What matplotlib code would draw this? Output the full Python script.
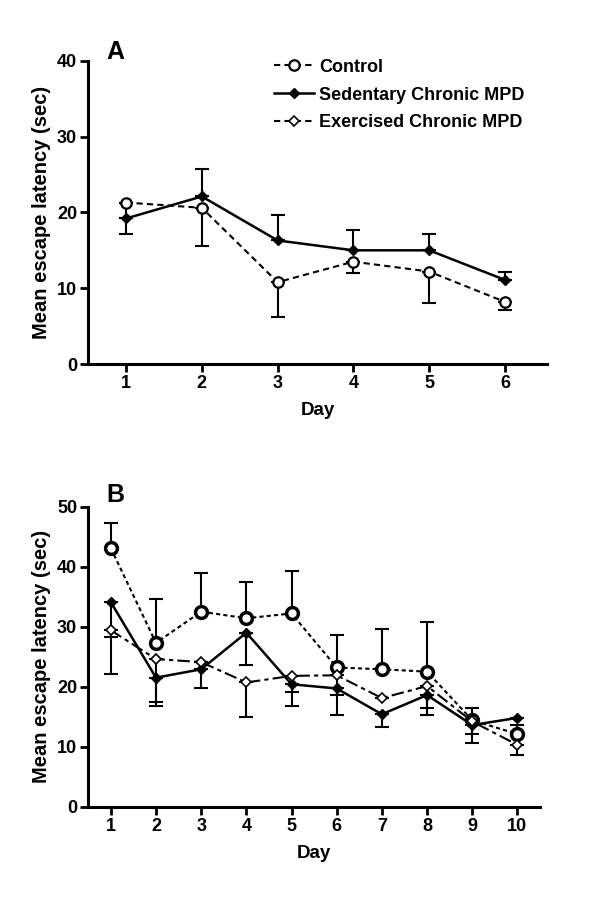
import matplotlib
matplotlib.use('Agg')
import matplotlib.pyplot as plt
import numpy as np

plt.rcParams['font.family'] = ['Liberation Sans', 'DejaVu Sans']
plt.rcParams['font.weight'] = 'bold'

# Panel A
days_a = [1, 2, 3, 4, 5, 6]
ctrl_a = [21.3, 20.6, 10.8, 13.5, 12.2, 8.2]
ctrl_a_lo = [4.1, 5.0, 4.6, 1.5, 4.1, 1.1]
sed_a = [19.2, 22.1, 16.3, 15.0, 15.0, 11.1]
sed_a_hi = [0.0, 3.6, 3.4, 2.7, 2.2, 1.0]

# Panel B
days_b = [1, 2, 3, 4, 5, 6, 7, 8, 9, 10]
ctrl_b = [43.1, 27.3, 32.5, 31.4, 32.2, 23.2, 22.9, 22.5, 14.4, 12.1]
ctrl_b_hi = [4.1, 7.3, 6.5, 6.1, 7.1, 5.4, 6.7, 8.3, 2.0, 1.5]
sed_b = [34.1, 21.5, 22.9, 29.0, 20.4, 19.7, 15.4, 18.6, 13.6, 14.8]
sed_b_lo = [12.0, 4.7, 3.2, 5.4, 3.6, 4.4, 2.1, 3.3, 3.0, 0.0]
exe_b = [29.4, 24.6, 24.1, 20.7, 21.8, 21.9, 18.1, 20.1, 14.2, 10.3]
exe_b_lo = [1.1, 7.1, 0.0, 5.8, 2.7, 3.3, 0.0, 3.7, 2.1, 1.7]

fig = plt.figure(figsize=(6, 8.99), dpi=100)
ax1 = fig.add_axes([0.147, 0.595, 0.764, 0.3375])
ax2 = fig.add_axes([0.147, 0.1027, 0.753, 0.3337])

ebkw = dict(color='black', capsize=5, capthick=1.5, elinewidth=1.5)

# A
ax1.errorbar(days_a, ctrl_a, yerr=[ctrl_a_lo, np.zeros(6)], fmt='none', **ebkw)
ax1.errorbar(days_a, sed_a, yerr=[np.zeros(6), sed_a_hi], fmt='none', **ebkw)
ax1.plot(days_a, ctrl_a, linestyle=(0, (3, 2)), color='black', lw=1.5,
         marker='o', ms=7.5, mfc='white', mec='black', mew=1.6, label='Control')
ax1.plot(days_a, sed_a, linestyle='-', color='black', lw=1.8,
         marker='D', ms=5, mfc='black', mec='black', label='Sedentary Chronic MPD')
ax1.plot([], [], linestyle=(0, (3, 2)), color='black', lw=1.5,
         marker='D', ms=5.5, mfc='white', mec='black', mew=1.2, label='Exercised Chronic MPD')
ax1.set_xlim(0.5, 6.55)
ax1.set_ylim(0, 40)
ax1.set_yticks([0, 10, 20, 30, 40])
ax1.set_xticks(days_a)
ax1.legend(loc='upper left', bbox_to_anchor=(0.37, 1.06), frameon=False,
           fontsize=13, handlelength=2.2, handletextpad=0.3, labelspacing=0.6)
ax1.text(0.04, 1.03, 'A', transform=ax1.transAxes, fontsize=18, fontweight='bold',
         va='center')

# B
ax2.errorbar(days_b, ctrl_b, yerr=[np.zeros(10), ctrl_b_hi], fmt='none', **ebkw)
ax2.errorbar(days_b, sed_b, yerr=[sed_b_lo, np.zeros(10)], fmt='none', **ebkw)
ax2.errorbar(days_b, exe_b, yerr=[exe_b_lo, np.zeros(10)], fmt='none', **ebkw)
ax2.plot(days_b, ctrl_b, linestyle=(0, (2, 1.5)), color='black', lw=1.5,
         marker='o', ms=8.5, mfc='white', mec='black', mew=2.5)
ax2.plot(days_b, sed_b, linestyle='-', color='black', lw=1.8,
         marker='D', ms=5, mfc='black', mec='black')
ax2.plot(days_b, exe_b, linestyle=(0, (6, 2, 2, 2)), color='black', lw=1.5,
         marker='D', ms=5.5, mfc='white', mec='black', mew=1.2)
ax2.set_xlim(0.5, 10.5)
ax2.set_ylim(0, 50)
ax2.set_yticks([0, 10, 20, 30, 40, 50])
ax2.set_xticks(days_b)
ax2.text(0.04, 1.04, 'B', transform=ax2.transAxes, fontsize=18, fontweight='bold',
         va='center')

for ax in (ax1, ax2):
    for s in ('top', 'right'):
        ax.spines[s].set_visible(False)
    for s in ('left', 'bottom'):
        ax.spines[s].set_linewidth(2.2)
    ax.tick_params(width=2, length=6, labelsize=13, direction='out', pad=2)
    for lab in ax.get_xticklabels() + ax.get_yticklabels():
        lab.set_fontweight('bold')
    ax.set_xlabel('Day', fontsize=13.5, fontweight='bold', labelpad=7)
    ax.set_ylabel('Mean escape latency (sec)', fontsize=14.5, fontweight='bold', labelpad=4)

fig.savefig('out.png', dpi=100)
